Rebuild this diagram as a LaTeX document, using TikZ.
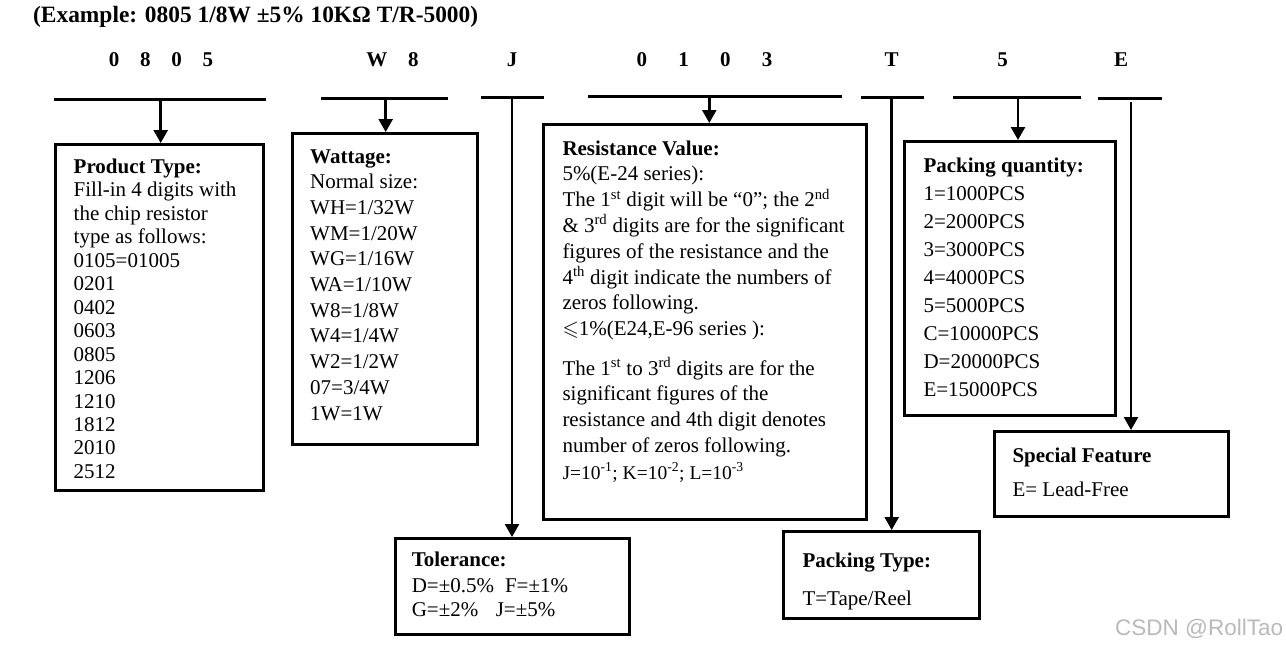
\documentclass[tikz,border=0pt]{standalone}
\usepackage{amssymb}
\usepackage{fontspec}
\setmainfont{Liberation Serif}
\setsansfont{Liberation Sans}
\usetikzlibrary{arrows.meta}
\begin{document}
\begin{tikzpicture}[x=1pt,y=-1pt,
 boxst/.style={draw, line width=3pt, anchor=north west, inner sep=0pt},
 barst/.style={line width=3pt},
 conn/.style={line width=2.5pt, -{Triangle[width=14pt,length=13pt]}},
 txt/.style={anchor=base west, inner sep=0pt, font=\fontsize{21}{24}\selectfont},
 hd/.style={anchor=base west, inner sep=0pt, font=\fontsize{21}{24}\selectfont\bfseries},
 code/.style={anchor=base, inner sep=0pt, font=\fontsize{21}{24}\selectfont\bfseries}]
\useasboundingbox[fill=white] (0,0) rectangle (1286,653);

% title
\node[anchor=base west, inner sep=0pt, font=\fontsize{23.4}{26}\selectfont\bfseries] (title) at (33,22) {(Example: 0805 1/8W ±5\% 10KΩ T/R-5000)};

% code letters
\node[code] (c1) at (161,66.7) {0\hspace{20.7pt}8\hspace{20.7pt}0\hspace{20.7pt}5};
\node[code] (c2) at (392.5,66.7) {W\hspace{20.7pt}8};
\node[code] (c3) at (512,66.7) {J};
\node[code] (c4) at (704.5,66.7) {0\hspace{31.2pt}1\hspace{31.2pt}0\hspace{31.2pt}3};
\node[code] (c5) at (891.7,66.7) {T};
\node[code] (c6) at (1002.7,66.7) {5};
\node[code] (c7) at (1121,66.7) {E};

% bars
\coordinate (b1l) at (54,99);     \coordinate (b1r) at (266,99);
\coordinate (b2l) at (321,98.3);  \coordinate (b2r) at (448.3,98.3);
\coordinate (b3l) at (481,97);    \coordinate (b3r) at (544,97);
\coordinate (b4l) at (588.3,96.7);\coordinate (b4r) at (841.7,96.7);
\coordinate (b5l) at (860.7,97);  \coordinate (b5r) at (924,97);
\coordinate (b6l) at (953.3,97.3);\coordinate (b6r) at (1080.7,97.3);
\coordinate (b7l) at (1098.3,98); \coordinate (b7r) at (1161.7,98);
\foreach \k in {1,...,7} \draw[barst] (b\k l) -- (b\k r);

% boxes
\node[boxst, minimum width=208pt, minimum height=346pt] (B1) at (54,143) {};
\node[boxst, minimum width=185pt, minimum height=311pt] (B2) at (291,132) {};
\node[boxst, minimum width=323pt, minimum height=395pt] (B4) at (542,123) {};
\node[boxst, minimum width=211pt, minimum height=274pt] (B6) at (903,140) {};
\node[boxst, minimum width=234pt, minimum height=85pt] (B7) at (993,430) {};
\node[boxst, minimum width=234pt, minimum height=96pt] (Tol) at (394,537) {};
\node[boxst, minimum width=196pt, minimum height=87pt] (PT) at (782,530) {};

% connectors
\coordinate (a1) at (160.7,99);
\coordinate (a2) at (385.7,98.3);
\coordinate (a3) at (512,97);
\coordinate (a4) at (709.3,96.7);
\coordinate (a5) at (891.7,97);
\coordinate (a6) at (1018,97.3);
\coordinate (a7) at (1131,102.3);
\draw[conn] (a1) -- (a1 |- B1.north);
\draw[conn] (a2) -- (a2 |- B2.north);
\draw[conn] (a3) -- (a3 |- Tol.north);
\draw[conn] (a4) -- (a4 |- B4.north);
\draw[conn] (a5) -- (a5 |- PT.north);
\draw[conn] (a6) -- (a6 |- B6.north);
\draw[conn] (a7) -- (a7 |- B7.north);

% Product type
\node[hd] (p0) at (73.5,173.5) {Product Type:};
\foreach \t [count=\i] in {Fill-in 4 digits with, the chip resistor, type as follows:, 0105=01005, 0201, 0402, 0603, 0805, 1206, 1210, 1812, 2010, 2512}
  \node[txt] (p\i) at (73.5,173.5+23.45*\i) {\t};

% Wattage
\node[hd] (w0) at (310,163.3) {Wattage:};
\foreach \t [count=\i] in {Normal size:, WH=1/32W, WM=1/20W, WG=1/16W, WA=1/10W, W8=1/8W, W4=1/4W, W2=1/2W, 07=3/4W, 1W=1W}
  \node[txt] (w\i) at (310,163.3+25.67*\i) {\t};

% Resistance value
\node[hd] (r0) at (562.3,155) {Resistance Value:};
\node[txt] (r1) at (562.3,180.8) {5\%(E-24 series):};
\node[txt] (r2) at (562.3,206.6) {The 1\textsuperscript{st} digit will be “0”; the 2\textsuperscript{nd}};
\node[txt] (r3) at (562.3,232.4) {\& 3\textsuperscript{rd} digits are for the significant};
\node[txt] (r4) at (562.3,258.2) {figures of the resistance and the};
\node[txt] (r5) at (562.3,284) {4\textsuperscript{th} digit indicate the numbers of};
\node[txt] (r6) at (562.3,309.8) {zeros following.};
\node[txt] (r7) at (562.3,335.6) {$\leqslant$1\%(E24,E-96 series ):};
\node[txt] (r8) at (562.3,375) {The 1\textsuperscript{st} to 3\textsuperscript{rd} digits are for the};
\node[txt] (r9) at (562.3,400.8) {significant figures of the};
\node[txt] (r10) at (562.3,426.6) {resistance and 4th digit denotes};
\node[txt] (r11) at (562.3,452.4) {number of zeros following.};
\node[anchor=base west, inner sep=0pt, font=\fontsize{19.5}{22}\selectfont] (r12) at (562.3,479.3) {J=10\textsuperscript{-1}; K=10\textsuperscript{-2}; L=10\textsuperscript{-3}};

% Packing quantity
\node[hd] (q0) at (923.3,172.7) {Packing quantity:};
\foreach \t [count=\i] in {1=1000PCS, 2=2000PCS, 3=3000PCS, 4=4000PCS, 5=5000PCS, C=10000PCS, D=20000PCS, E=15000PCS}
  \node[txt] (q\i) at (923.3,172.7+28*\i) {\t};

% Special feature
\node[hd] (s0) at (1012.3,462.3) {Special Feature};
\node[txt] (s1) at (1012.3,496.7) {E= Lead-Free};

% Tolerance
\node[hd] (t0) at (411.6,566.7) {Tolerance:};
\node[txt] (t1) at (411.6,592.7) {D=±0.5\%\hspace{11pt}F=±1\%};
\node[txt] (t2) at (411.6,616.7) {G=±2\%\hspace{17.5pt}J=±5\%};

% Packing type
\node[hd] (k0) at (802.3,567) {Packing Type:};
\node[txt] (k1) at (802.3,605) {T=Tape/Reel};

% watermark
\node[anchor=base west, inner sep=0pt, text=black!27, font=\sffamily\fontsize{22.5}{25}\selectfont] (wm) at (1115,635) {CSDN @RollTao};
\end{tikzpicture}
\end{document}
